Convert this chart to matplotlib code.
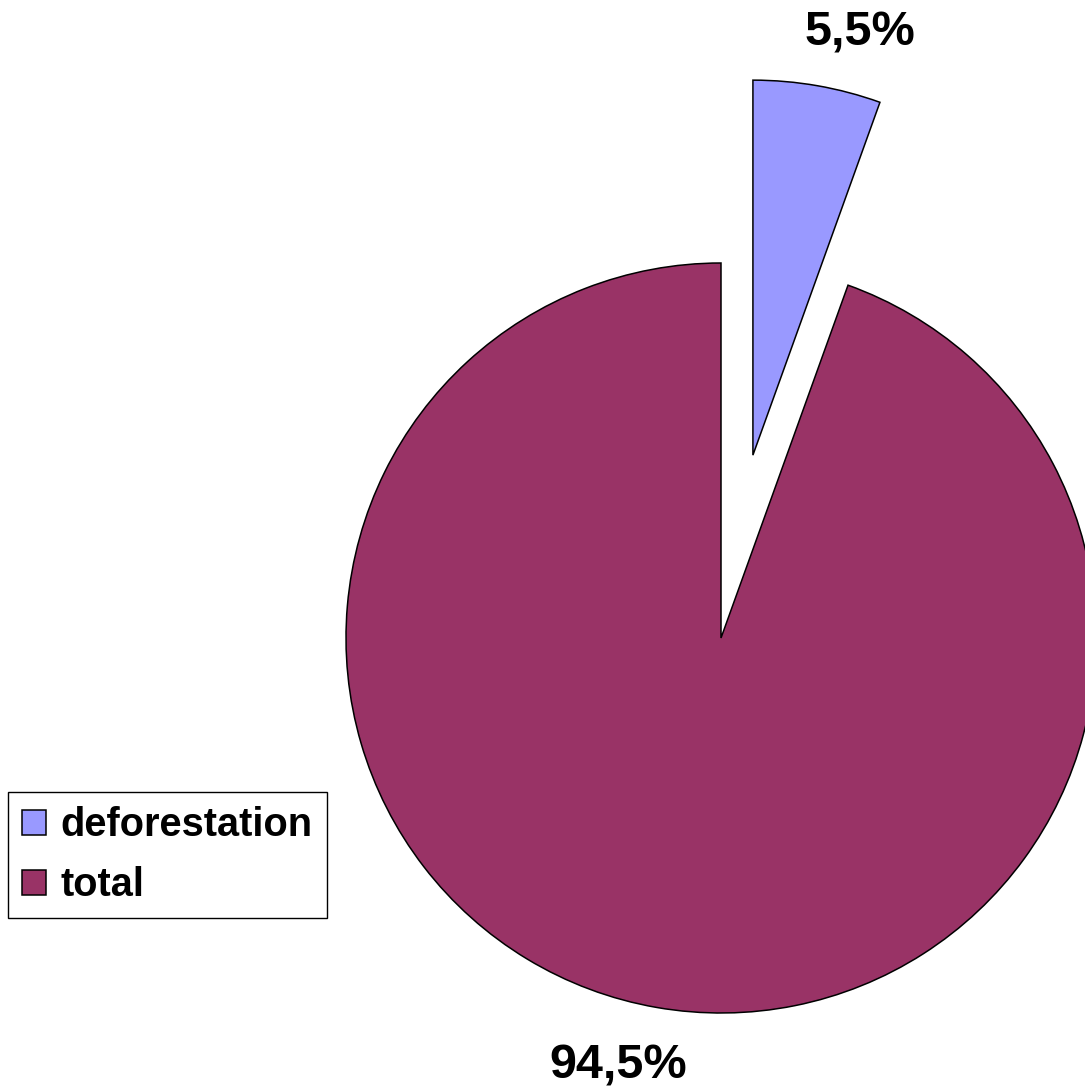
import matplotlib.pyplot as plt

plt.rcParams['font.family'] = ['Liberation Sans', 'DejaVu Sans']

# dados
labels = ['deforestation', 'total']
values = [5.5, 94.5]
colors = ['#9999FF', '#993366']
explode = [0.495, 0]

fig = plt.figure(figsize=(10.85, 10.86), dpi=100)
ax = fig.add_axes([0, 0, 1, 1])

wedges, _ = ax.pie(values, explode=explode, colors=colors, startangle=90,
                   counterclock=False, radius=1,
                   wedgeprops=dict(edgecolor='black', linewidth=1.1))

# rótulos de percentagem (vírgula decimal)
pct_txt = [('%.1f%%' % v).replace('.', ',') for v in values]
pct_pos = [(0.371, 1.581), (-0.275, -1.175)]
for txt, (x, y) in zip(pct_txt, pct_pos):
    ax.text(x, y, txt, ha='center', va='baseline', fontsize=35, fontweight='bold')

ax.set_aspect('equal')
ax.set_xlim(-721 / 375, (1085 - 721) / 375)
ax.set_ylim(-448 / 375, (1086 - 448) / 375)
ax.axis('off')

leg = fig.legend(wedges, labels, loc='upper left',
                 bbox_to_anchor=(8 / 1085, 1 - 792 / 1086), borderaxespad=0,
                 prop=dict(size=28.6, weight='bold'), fancybox=False,
                 edgecolor='black', framealpha=1, handlelength=0.6,
                 handleheight=0.6, handletextpad=0.36, labelspacing=0.55,
                 borderpad=0.36)
leg.get_frame().set_linewidth(1.0)

fig.savefig('out.png', dpi=100)
